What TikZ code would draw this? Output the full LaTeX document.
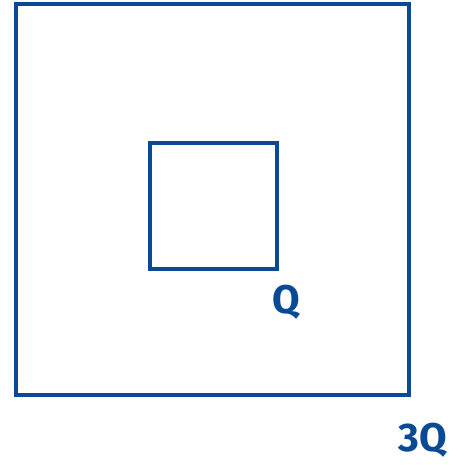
\documentclass[tikz,border=0pt]{standalone}
\usepackage{fontspec}
\setmainfont{Fira Sans}
\definecolor{ink}{HTML}{0A4A94}
\begin{document}
\begin{tikzpicture}[x=1pt,y=-1pt,
  sq/.style={draw=ink,line width=3.5pt},
  lbl/.style={text=ink,font=\fontsize{40}{40}\selectfont\bfseries,inner sep=0pt}]
\useasboundingbox (0,0) rectangle (476,465);
\node[sq,minimum width=393pt,minimum height=391pt,inner sep=0pt] (outer) at (212.5,199.5) {};
\node[sq,minimum width=127pt,minimum height=126pt,inner sep=0pt] (inner) at (213.5,206) {};
\node[lbl] (q) at (286,302) {Q};
\node[lbl] (q3) at (423,440) {3Q};
\end{tikzpicture}
\end{document}
